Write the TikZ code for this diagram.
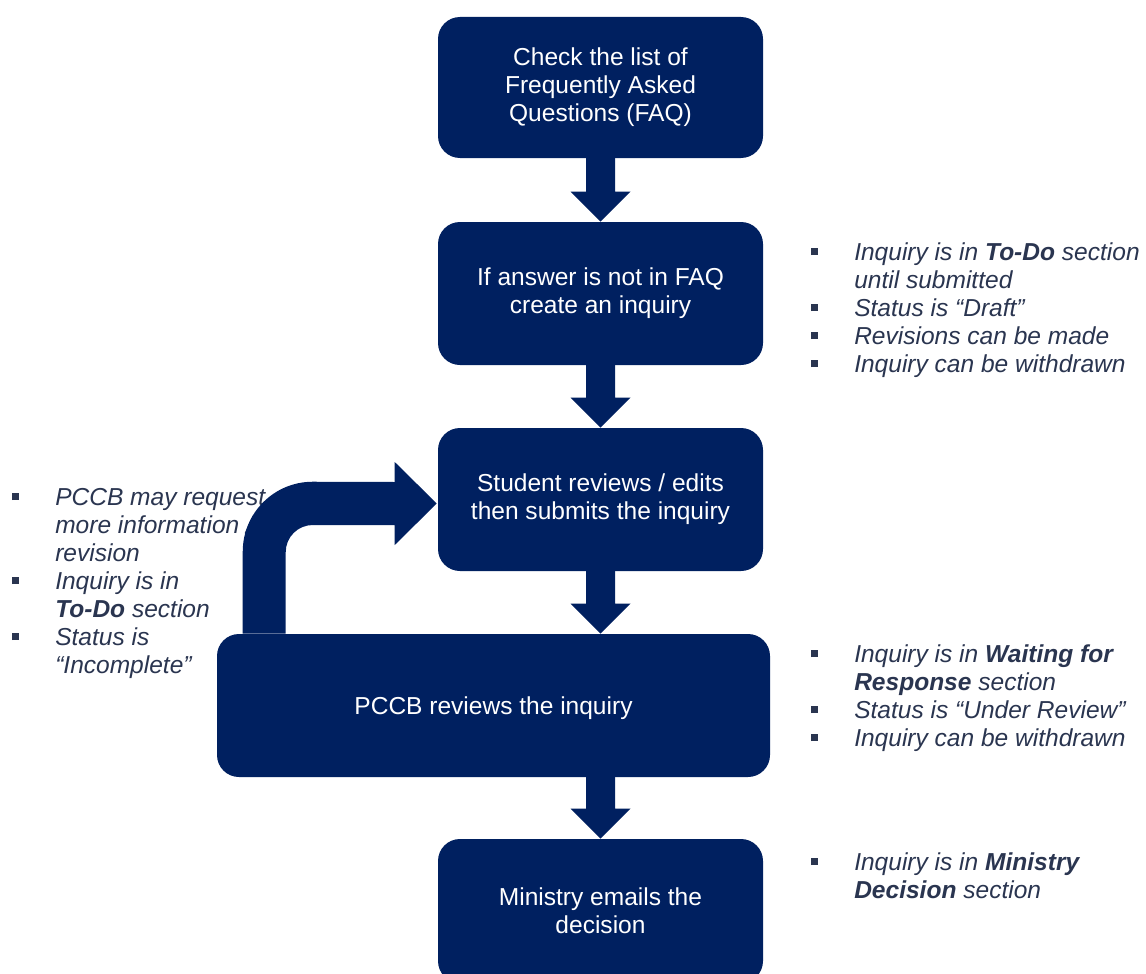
\documentclass[tikz,border=0pt]{standalone}
\usepackage{fontspec}
\setmainfont{Liberation Sans}
\usetikzlibrary{calc}
\definecolor{navy}{HTML}{002060}
\definecolor{notetext}{HTML}{2A3550}
\newcommand{\sqbul}{\raisebox{4.3pt}{\rule{5pt}{5pt}}}
\newcommand{\bul}{\strut\makebox[32.25pt][l]{\sqbul}}
\newcommand{\ind}{\strut\hspace*{32.25pt}}
\newcommand{\blockdn}[2]{%
  \fill[navy] ($(#1)+(-14.5,-1)$) -- ($(#2)+(-14.5,-30)$) -- ($(#2)+(-30,-30)$)
    -- (#2) -- ($(#2)+(30,-30)$) -- ($(#2)+(14.5,-30)$) -- ($(#1)+(14.5,-1)$) -- cycle;}
\tikzset{
  box/.style={fill=navy, draw=none, rounded corners=16.5pt, text=white,
    font=\fontsize{18.4}{21}\selectfont, align=center, inner sep=0pt,
    minimum width=243.75pt, minimum height=107.25pt,
    execute at begin node={\rule{0pt}{17.5pt}}},
  note/.style={text=notetext, font=\fontsize{18.4}{21}\selectfont\itshape,
    align=left, inner sep=0pt, anchor=north west}
}
\begin{document}
\begin{tikzpicture}[x=0.75pt,y=-0.75pt]
\clip (0,0) rectangle (1146,974);
\fill[white] (0,0) rectangle (1146,974);
% boxes
\node[box, minimum height=105.75pt] (b1) at (600.5,87.5) {Check the list of\\Frequently Asked\\Questions (FAQ)};
\node[box] (b2) at (600.5,293.5) {If answer is not in FAQ\\create an inquiry};
\node[box] (b3) at (600.5,499.5) {Student reviews / edits\\then submits the inquiry};
\node[box, minimum width=414.75pt] (b4) at (493.5,705.5) {PCCB reviews the inquiry};
\node[box, minimum height=108pt] (b5) at (600.5,911) {Ministry emails the\\decision};
% down arrows
\blockdn{b1.south}{b2.north}
\blockdn{b2.south}{b3.north}
\blockdn{b3.south}{b4.north -| b3.south}
\blockdn{b4.south -| b5.north}{b5.north}
% notes
\node[note] (n1) at (811,241) {\bul Inquiry is in \textbf{To-Do} section\\
  \ind until submitted\\
  \bul Status is “Draft”\\
  \bul Revisions can be made\\
  \bul Inquiry can be withdrawn};
\node[note] (n2) at (811,643) {\bul Inquiry is in \textbf{Waiting for}\\
  \ind \textbf{Response} section\\
  \bul Status is “Under Review”\\
  \bul Inquiry can be withdrawn};
\node[note] (n3) at (811,851) {\bul Inquiry is in \textbf{Ministry}\\
  \ind \textbf{Decision} section};
\node[note] (n0) at (12,486) {\bul PCCB may request\\
  \ind more information /\\
  \ind revision\\
  \bul Inquiry is in\\
  \ind \textbf{To-Do} section\\
  \bul Status is\\
  \ind “Incomplete”};
% loop-back arrow
\coordinate (s) at ($(b4.north west)+(26,0)$);
\coordinate (tip) at ($(b3.west)+(-1,4)$);
\fill[navy] (s) -- ++(0,-82) .. controls +(0,-38.7) and +(-38.7,0) .. ++(70,-70)
  -- ($(tip)+(-42,-21.5)$) -- ++(0,-20) -- (tip) -- ($(tip)+(-42,41.5)$)
  -- ++(0,-20) -- ++(-82,0) .. controls +(-14.9,0) and +(0,-14.9) .. ++(-27,27)
  -- ($(s)+(43,0)$) -- cycle;
\end{tikzpicture}
\end{document}
